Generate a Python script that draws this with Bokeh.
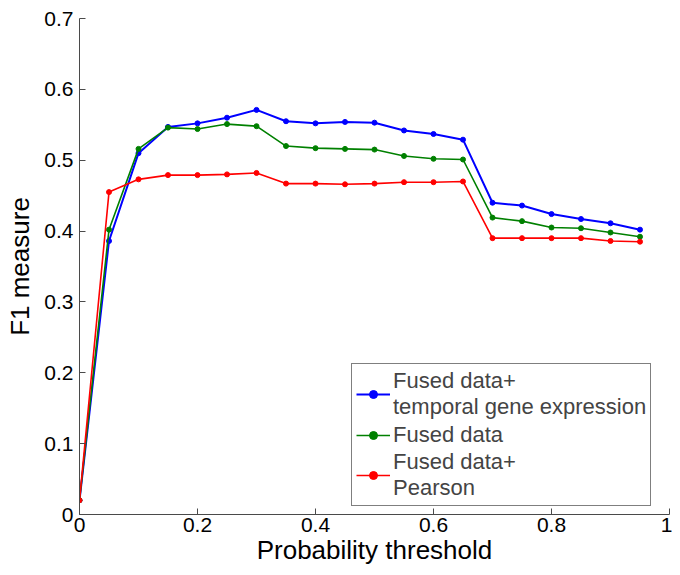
from bokeh.plotting import figure
from bokeh.models import Legend, LegendItem, FixedTicker, Range1d
from bokeh.embed import file_html
from bokeh.resources import INLINE

x = [0.0, 0.05, 0.1, 0.15, 0.2, 0.25, 0.3, 0.35, 0.4, 0.45,
     0.5, 0.55, 0.6, 0.65, 0.7, 0.75, 0.8, 0.85, 0.9, 0.95]
temporal = [0.020, 0.386, 0.510, 0.547, 0.552, 0.560, 0.571, 0.555, 0.552, 0.554,
            0.553, 0.542, 0.537, 0.529, 0.440, 0.436, 0.424, 0.417, 0.411, 0.402]
fused = [0.020, 0.402, 0.516, 0.546, 0.544, 0.551, 0.548, 0.520, 0.517, 0.516,
         0.515, 0.506, 0.502, 0.501, 0.419, 0.414, 0.405, 0.404, 0.398, 0.392]
pearson = [0.020, 0.455, 0.473, 0.479, 0.479, 0.480, 0.482, 0.467, 0.467, 0.466,
           0.467, 0.469, 0.469, 0.470, 0.390, 0.390, 0.390, 0.390, 0.386, 0.385]
labels = ["Fused data+\ntemporal gene expression", "Fused data", "Fused data+\nPearson"]
colors = ["#0000ff", "#008000", "#ff0000"]
x_ticks = [0, 0.2, 0.4, 0.6, 0.8, 1.0]
y_ticks = [0, 0.1, 0.2, 0.3, 0.4, 0.5, 0.6, 0.7]

FONT = "Liberation Sans"

p = figure(width=672, height=567, output_backend="svg", toolbar_location=None,
           x_range=Range1d(0, 1), y_range=Range1d(0, 0.7),
           min_border_left=79, min_border_right=3, min_border_top=18, min_border_bottom=47)
p.outline_line_color = None
p.xgrid.visible = False
p.ygrid.visible = False
p.background_fill_color = "white"
p.border_fill_color = "white"

for ax in (p.xaxis[0], p.yaxis[0]):
    ax.axis_line_color = "#4a4a4a"
    ax.major_tick_line_color = "#4a4a4a"
    ax.major_tick_in = 6
    ax.major_tick_out = 0
    ax.minor_tick_line_color = None
    ax.major_label_text_font = FONT
    ax.major_label_text_font_size = "21px"
    ax.major_label_text_color = "black"
    ax.axis_label_text_font = FONT
    ax.axis_label_text_font_size = "26px"
    ax.axis_label_text_font_style = "normal"
    ax.axis_label_text_color = "black"

p.xaxis.ticker = FixedTicker(ticks=x_ticks)
p.yaxis.ticker = FixedTicker(ticks=y_ticks)
p.xaxis.axis_label = "Probability threshold"
p.yaxis.axis_label = "F1 measure"
p.xaxis.major_label_standoff = 3
p.yaxis.major_label_standoff = 6
p.xaxis.axis_label_standoff = 0
p.yaxis.axis_label_standoff = 6

items = []
for ys, c, lab, lw in zip([temporal, fused, pearson], colors, labels, [2.0, 1.6, 1.6]):
    l = p.line(x, ys, line_color=c, line_width=lw)
    s = p.scatter(x, ys, size=5, fill_color=c, line_color=c)
    items.append(LegendItem(label=lab, renderers=[l, s]))

legend = Legend(items=items, location=(272, 8))
legend.label_text_font = FONT
legend.label_text_font_size = "22px"
legend.label_text_line_height = 1.3
legend.border_line_color = "black"
legend.border_line_width = 1
legend.glyph_width = 34
legend.label_standoff = 3
legend.padding = 4
legend.margin = 0
legend.spacing = 0
legend.label_height = 29
p.add_layout(legend, "center")

open("out.html", "w").write(file_html(p, INLINE))
